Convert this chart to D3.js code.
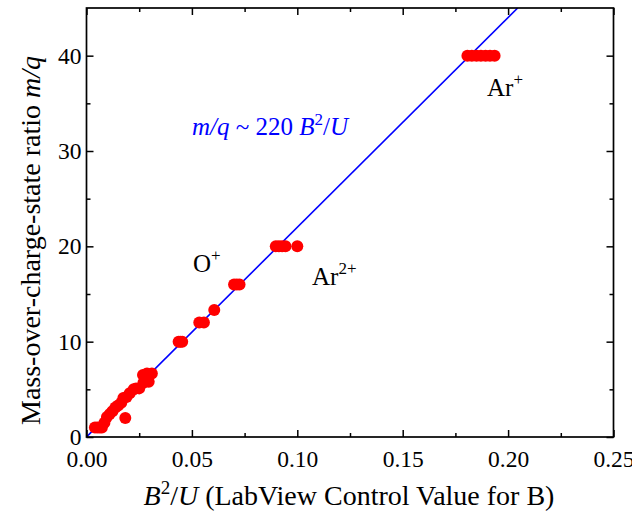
<!DOCTYPE html>
<html><head><meta charset="utf-8">
<script src="https://cdn.jsdelivr.net/npm/d3@7"></script>
<style>
body{margin:0;background:#fff}
svg{display:block}
text{font-family:"Liberation Serif","Times New Roman",serif;fill:#000}
</style>
</head><body>
<svg id="c" width="632" height="513"></svg>
<script>
// ---- data ----
const xValues = [
  0.004, 0.0052, 0.0063, 0.0073, 0.0085, 0.0097, 0.011, 0.0123, 0.0137, 0.015, 0.0165,
  0.0184, 0.0175, 0.019, 0.0205, 0.0224, 0.0235, 0.025, 0.027, 0.0295, 0.0268, 0.0287, 0.031,
  0.0437, 0.0445, 0.0454,
  0.0535, 0.0557,
  0.0606,
  0.0700, 0.0713, 0.0726,
  0.0898, 0.0913, 0.0928, 0.0944, 0.1000,
  0.1807, 0.1828, 0.1850, 0.1871, 0.1893, 0.1914, 0.1936
];
const yValues = [
  1, 1, 1, 1, 1.5, 2.1, 2.4, 2.7, 3.1, 3.3, 3.6,
  2, 4.1, 4.2, 4.6, 5, 5.1, 5.1, 5.7, 5.8, 6.5, 6.67, 6.67,
  10, 10, 10,
  12, 12,
  13.33,
  16, 16, 16,
  20, 20, 20, 20, 20,
  40, 40, 40, 40, 40, 40, 40
];
const fitSlope = 220;
const xDomain = [0, 0.25];
const yDomain = [0, 45];
const xTicks = [0, 0.05, 0.10, 0.15, 0.20, 0.25];
const xTickLabels = ["0.00", "0.05", "0.10", "0.15", "0.20", "0.25"];
const xMinorTicks = [0.025, 0.075, 0.125, 0.175, 0.225];
const yTicks = [0, 10, 20, 30, 40];
const yTickLabels = ["0", "10", "20", "30", "40"];
const yMinorTicks = [5, 15, 25, 35];

// ---- layout ----
const L = 86.5, R = 613.5, T = 8, B = 437;
const svg = d3.select("#c");
const x = d3.scaleLinear().domain(xDomain).range([L, R]);
const y = d3.scaleLinear().domain(yDomain).range([B, T]);

svg.append("defs").append("clipPath").attr("id", "clip")
  .append("rect").attr("x", L).attr("y", T).attr("width", R - L).attr("height", B - T);

// fit line
const xEnd = yDomain[1] / fitSlope;
svg.append("line")
  .attr("clip-path", "url(#clip)")
  .attr("x1", x(0)).attr("y1", y(0))
  .attr("x2", x(xEnd)).attr("y2", y(fitSlope * xEnd))
  .attr("stroke", "#0000ff").attr("stroke-width", 1.6);

// points
svg.append("g").selectAll("circle").data(xValues.map((v, i) => [v, yValues[i]]))
  .join("circle")
  .attr("cx", d => x(d[0])).attr("cy", d => y(d[1])).attr("r", 6)
  .attr("fill", "#ff0000");

// axes
const TICK_FS = 23.5;
function styleAxis(g) {
  g.select(".domain").remove();
  g.selectAll("line").attr("stroke", "#000").attr("stroke-width", 1.5);
  g.selectAll("text").attr("font-family", "Liberation Serif, Times New Roman, serif")
    .attr("font-size", TICK_FS).attr("fill", "#000");
}
const MAJ = 7, MIN = 4;
// bottom
svg.append("g").attr("transform", `translate(0,${B})`)
  .call(d3.axisBottom(x).tickValues(xTicks).tickSize(-MAJ).tickPadding(13)
    .tickFormat((d, i) => xTickLabels[i]))
  .call(styleAxis);
svg.append("g").attr("transform", `translate(0,${B})`)
  .call(d3.axisBottom(x).tickValues(xMinorTicks).tickSize(-MIN).tickFormat(""))
  .call(styleAxis);
// top
svg.append("g").attr("transform", `translate(0,${T})`)
  .call(d3.axisTop(x).tickValues(xTicks).tickSize(-MAJ).tickFormat(""))
  .call(styleAxis);
svg.append("g").attr("transform", `translate(0,${T})`)
  .call(d3.axisTop(x).tickValues(xMinorTicks).tickSize(-MIN).tickFormat(""))
  .call(styleAxis);
// left
svg.append("g").attr("transform", `translate(${L},0)`)
  .call(d3.axisLeft(y).tickValues(yTicks).tickSize(-MAJ).tickPadding(5)
    .tickFormat((d, i) => yTickLabels[i]))
  .call(styleAxis);
svg.append("g").attr("transform", `translate(${L},0)`)
  .call(d3.axisLeft(y).tickValues(yMinorTicks).tickSize(-MIN).tickFormat(""))
  .call(styleAxis);
// right
svg.append("g").attr("transform", `translate(${R},0)`)
  .call(d3.axisRight(y).tickValues(yTicks).tickSize(-MAJ).tickFormat(""))
  .call(styleAxis);
svg.append("g").attr("transform", `translate(${R},0)`)
  .call(d3.axisRight(y).tickValues(yMinorTicks).tickSize(-MIN).tickFormat(""))
  .call(styleAxis);

// frame
svg.append("rect").attr("x", L).attr("y", T).attr("width", R - L).attr("height", B - T)
  .attr("fill", "none").attr("stroke", "#000").attr("stroke-width", 1.7);

// axis titles
const TITLE_FS = 28;
const xt = svg.append("text").attr("x", (L + R) / 2 - 1).attr("y", 505)
  .attr("text-anchor", "middle").attr("font-size", TITLE_FS);
xt.append("tspan").attr("font-style", "italic").text("B");
xt.append("tspan").attr("dy", -11).attr("font-size", 19).text("2");
xt.append("tspan").attr("dy", 11).text("/");
xt.append("tspan").attr("font-style", "italic").text("U");
xt.append("tspan").text(" (LabView Control Value for B)");

const yt = svg.append("text").attr("transform", `translate(40,${(T + B) / 2 + 18}) rotate(-90)`)
  .attr("text-anchor", "middle").attr("font-size", TITLE_FS);
yt.append("tspan").text("Mass-over-charge-state ratio ");
yt.append("tspan").attr("font-style", "italic").text("m/q");

// annotations
const ANN_FS = 25;
const fit = svg.append("text").attr("x", 192).attr("y", 135).attr("font-size", ANN_FS)
  .style("fill", "#0000ff");
fit.append("tspan").attr("font-style", "italic").text("m/q");
fit.append("tspan").text(" ~ 220 ");
fit.append("tspan").attr("font-style", "italic").text("B");
fit.append("tspan").attr("dy", -10).attr("font-size", 17).text("2");
fit.append("tspan").attr("dy", 10).text("/");
fit.append("tspan").attr("font-style", "italic").text("U");

function ionLabel(px, py, base, sup) {
  const t = svg.append("text").attr("x", px).attr("y", py).attr("font-size", ANN_FS);
  t.append("tspan").text(base);
  t.append("tspan").attr("dy", -11).attr("font-size", 17).text(sup);
}
ionLabel(193, 272, "O", "+");
ionLabel(312, 285, "Ar", "2+");
ionLabel(487, 96, "Ar", "+");
</script>
</body></html>
